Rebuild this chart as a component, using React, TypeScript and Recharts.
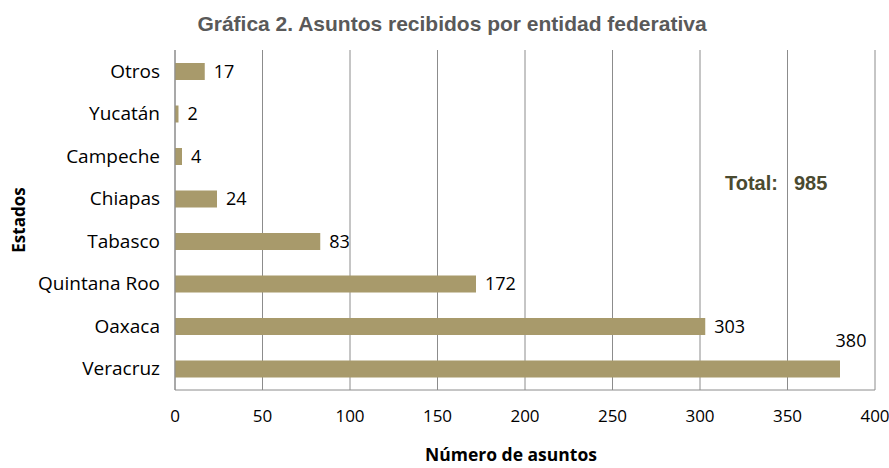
import { BarChart, Bar, XAxis, YAxis, CartesianGrid, LabelList } from "recharts";

const estados = ["Otros", "Yucatán", "Campeche", "Chiapas", "Tabasco", "Quintana Roo", "Oaxaca", "Veracruz"];
const asuntos = [17, 2, 4, 24, 83, 172, 303, 380];
const xTicks = [0, 50, 100, 150, 200, 250, 300, 350, 400];
const total = 985;

const data = estados.map((estado, i) => ({ estado, asuntos: asuntos[i] }));

const labelFont = "'Open Sans', Lato, sans-serif";

function ValueLabel(props: any) {
  const { x, y, width, height, value } = props;
  // last bar is too long: its label sits above the end of the bar
  if (value >= 350) {
    return (
      <text x={x + width + 11} y={y - 14} textAnchor="middle" fontSize={18} fill="#000" fontFamily={labelFont}>
        {value}
      </text>
    );
  }
  return (
    <text x={x + width + 9} y={y + height / 2 + 6} textAnchor="start" fontSize={18} fill="#000" fontFamily={labelFont}>
      {value}
    </text>
  );
}

export default function App() {
  return (
    <div style={{ position: "absolute", left: 0, top: 0, width: 889, height: 468, background: "#fff" }}>
      <BarChart
        width={889}
        height={468}
        data={data}
        layout="vertical"
        margin={{ top: 50, right: 14, bottom: 0, left: 0 }}
        barCategoryGap={0}
        style={{ overflow: "visible" }}
      >
        <CartesianGrid horizontal={false} stroke="#8c8c8c" />
        <XAxis
          type="number"
          domain={[0, 400]}
          ticks={xTicks}
          tickLine={false}
          axisLine={{ stroke: "#8c8c8c" }}
          tickMargin={14}
          height={78}
          tick={{ fill: "#000", fontSize: 17, fontFamily: labelFont }}
        />
        <YAxis
          type="category"
          dataKey="estado"
          width={175}
          tickLine={false}
          axisLine={{ stroke: "#8c8c8c" }}
          tickMargin={9}
          tick={{ fill: "#000", fontSize: 19, fontFamily: labelFont }}
        />
        <Bar dataKey="asuntos" fill="#A89A6B" barSize={17} isAnimationActive={false}>
          <LabelList dataKey="asuntos" content={ValueLabel} />
        </Bar>
        <text x={452} y={31} textAnchor="middle" fontSize={21} fontWeight="bold" fill="#595959" fontFamily="'Liberation Sans Narrow', 'Liberation Sans', Arial, sans-serif">
          Gráfica 2. Asuntos recibidos por entidad federativa
        </text>
        <text x={25} y={220} textAnchor="middle" fontSize={17} fontWeight="bold" fill="#000" fontFamily={labelFont} transform="rotate(-90 25 220)">
          Estados
        </text>
        <text x={511} y={461} textAnchor="middle" fontSize={17.5} fontWeight="bold" fill="#000" fontFamily={labelFont}>
          Número de asuntos
        </text>
        <text x={725} y={190} fontSize={20} fontWeight="bold" fill="#4a4a30" fontFamily="'Liberation Sans', Arial, sans-serif">
          Total:
        </text>
        <text x={794} y={190} fontSize={20} fontWeight="bold" fill="#4a4a30" fontFamily="'Liberation Sans', Arial, sans-serif">
          {total}
        </text>
      </BarChart>
    </div>
  );
}
